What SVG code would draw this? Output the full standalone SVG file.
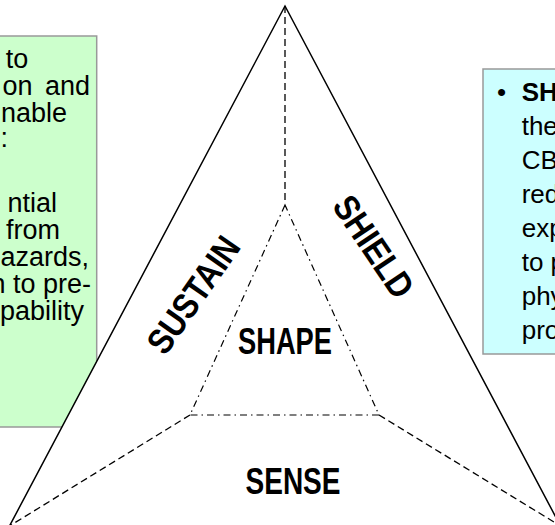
<svg xmlns="http://www.w3.org/2000/svg" width="555" height="525" viewBox="0 0 555 525">
<style>
.box-l{fill:#ccffcc;stroke:#999999;stroke-width:1.5}
.box-r{fill:#ccffff;stroke:#999999;stroke-width:1.5}
.t{font-family:"Liberation Sans",Arial,sans-serif;font-size:26px;fill:#000}
.tl{font-family:"Liberation Sans",Arial,sans-serif;font-size:27px;fill:#000;text-anchor:end}
.b{font-weight:bold}
.lbl{font-family:"Liberation Sans",Arial,sans-serif;font-size:36px;font-weight:bold;fill:#000;text-anchor:middle}
.side{fill:none;stroke:#000;stroke-width:1.5}
.dash{fill:none;stroke:#000;stroke-width:1.3;stroke-dasharray:7 4}
.dashdot{fill:none;stroke:#000;stroke-width:1.2;stroke-dasharray:7 4 1.5 4}
</style>
<g id="sustain-note">
<rect class="box-l" x="-10" y="36" width="106.7" height="391"/>
<text class="tl" x="28.3" y="68">to</text>
<text class="tl" x="90" y="95" word-spacing="5">on and</text>
<text class="tl" x="67" y="122">nable</text>
<text class="tl" x="8" y="147">:</text>
<text class="tl" x="57" y="212">ntial</text>
<text class="tl" x="60" y="239">from</text>
<text class="tl" x="89" y="266">azards,</text>
<text class="tl" x="91" y="293">n to pre-</text>
<text class="tl" x="84" y="320">pability</text>
</g>
<g id="shield-note">
<rect class="box-r" x="483" y="69" width="82" height="285"/>
<text class="t" x="497" y="101">•</text>
<text class="t b" x="521.7" y="101">SH</text>
<text class="t" x="521.7" y="135">the</text>
<text class="t" x="521.7" y="169">CB</text>
<text class="t" x="521.7" y="203">red</text>
<text class="t" x="521.7" y="237">exp</text>
<text class="t" x="521.7" y="271">to p</text>
<text class="t" x="521.7" y="305">phy</text>
<text class="t" x="521.7" y="339">pro</text>
</g>
<g id="triangle">
<polygon points="285,6 9.5,526 560.5,526" fill="#ffffff" stroke="none"/>
<path class="side" d="M9.5,526 L285,6 L560.5,526"/>
</g>
<g id="connectors">
<path class="dash" d="M285,6 L285,204"/>
<path class="dashdot" d="M285,205 L190,415 L379,415 Z"/>
<path class="dash" d="M190,415 L9.5,526"/>
<path class="dash" d="M379,415 L560.5,526"/>
</g>
<g id="shape">
<text class="lbl" x="285" y="354" textLength="94" lengthAdjust="spacingAndGlyphs">SHAPE</text>
</g>
<g id="sense">
<text class="lbl" x="293" y="494" textLength="95" lengthAdjust="spacingAndGlyphs">SENSE</text>
</g>
<g id="sustain" transform="translate(192.5,294.2) rotate(-55)">
<text class="lbl" x="0" y="13.5" textLength="134" lengthAdjust="spacingAndGlyphs">SUSTAIN</text>
</g>
<g id="shield" transform="translate(374.5,246) rotate(56)">
<text class="lbl" x="0" y="13.5" textLength="115" lengthAdjust="spacingAndGlyphs">SHIELD</text>
</g>
</svg>
